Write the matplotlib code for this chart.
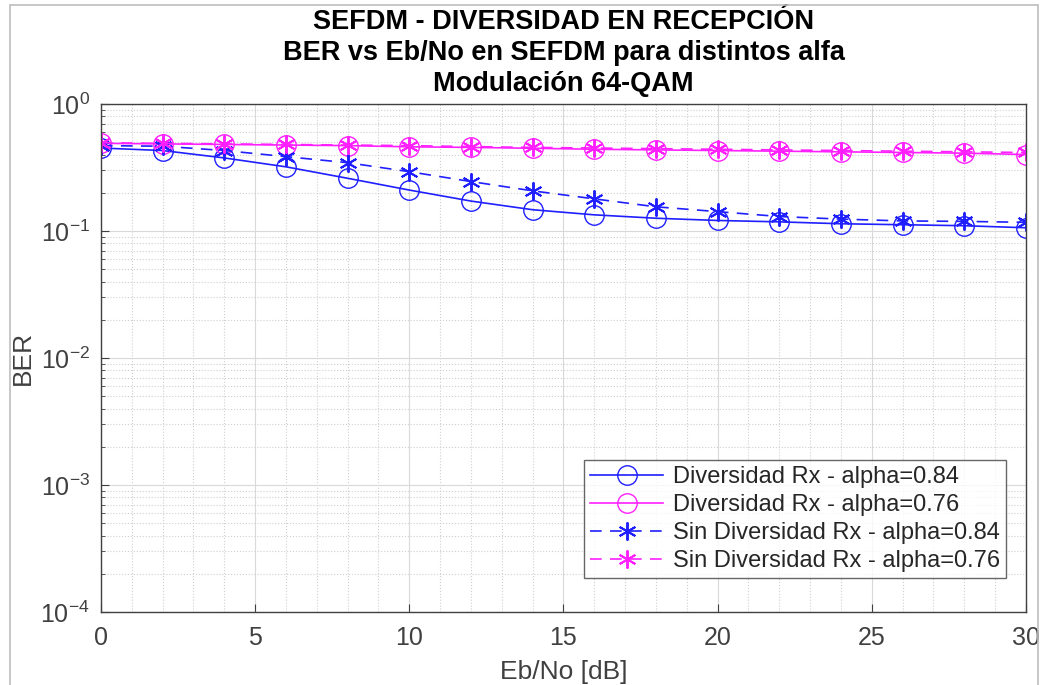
import numpy as np
import matplotlib
matplotlib.use("Agg")
import matplotlib.pyplot as plt
from matplotlib.patches import Rectangle
from matplotlib.ticker import MultipleLocator, LogLocator, NullFormatter

plt.rcParams['font.family'] = ['Liberation Sans', 'DejaVu Sans']

ebno = [0, 2, 4, 6, 8, 10, 12, 14, 16, 18, 20, 22, 24, 26, 28, 30]

# BER
div_084 = [0.45, 0.43, 0.376, 0.32, 0.26, 0.21, 0.172, 0.147, 0.134, 0.126,
           0.121, 0.118, 0.114, 0.112, 0.110, 0.106]
div_076 = [0.49, 0.485, 0.48, 0.475, 0.47, 0.46, 0.455, 0.448, 0.44, 0.435,
           0.43, 0.425, 0.42, 0.415, 0.41, 0.40]
sin_084 = [0.47, 0.465, 0.43, 0.385, 0.345, 0.293, 0.245, 0.207, 0.179, 0.155,
           0.142, 0.130, 0.124, 0.120, 0.119, 0.117]
sin_076 = [0.495, 0.49, 0.485, 0.48, 0.475, 0.47, 0.462, 0.455, 0.45, 0.445,
           0.44, 0.435, 0.43, 0.425, 0.42, 0.415]

azul = '#1f1fff'
rosa = '#ff1fff'
gris = '#404040'
asterisco = (6, 2, 0)

fig = plt.figure(figsize=(10.43, 6.85), dpi=100)
# marco gris de la ventana
fig.patches.append(Rectangle((10 / 1043, -0.05), 1028 / 1043, 1 - 5 / 685 + 0.05,
                             transform=fig.transFigure, fill=False,
                             edgecolor='#bdbdbd', lw=1.2))
ax = fig.add_axes([0.0968, 0.1066, 0.8869, 0.7416])

ax.semilogy(ebno, div_084, '-', marker='o', color=azul, mfc='none', ms=14, lw=1.2,
            label='Diversidad Rx - alpha=0.84')
ax.semilogy(ebno, div_076, '-', marker='o', color=rosa, mfc='none', ms=14, lw=1.2,
            label='Diversidad Rx - alpha=0.76')
ax.semilogy(ebno, sin_084, '--', marker=asterisco, color=azul, ms=13, mew=1.4, lw=1.2,
            dashes=(7, 5), label='Sin Diversidad Rx - alpha=0.84')
ax.semilogy(ebno, sin_076, '--', marker=asterisco, color=rosa, ms=13, mew=1.4, lw=1.2,
            dashes=(7, 5), label='Sin Diversidad Rx - alpha=0.76')

ax.set_xlim(0, 30)
ax.set_ylim(1e-4, 1)
ax.xaxis.set_major_locator(MultipleLocator(5))
ax.xaxis.set_minor_locator(MultipleLocator(1))
ax.yaxis.set_major_locator(LogLocator(base=10, numticks=10))
ax.yaxis.set_minor_locator(LogLocator(base=10, subs=np.arange(2, 10), numticks=50))
ax.yaxis.set_minor_formatter(NullFormatter())

ax.grid(True, which='major', color='#d9d9d9', lw=0.8)
ax.grid(True, which='minor', color='#cfcfcf', ls=':', lw=0.8)
ax.set_axisbelow(True)
ax.tick_params(which='both', direction='in', colors=gris, labelsize=18)
ax.tick_params(axis='x', which='major', pad=10)
ax.tick_params(axis='y', which='major', pad=8)
ax.tick_params(which='major', length=6)
ax.tick_params(which='minor', length=3)
ax.tick_params(axis='x', which='minor', length=0)
for s in ax.spines.values():
    s.set_color(gris)
    s.set_linewidth(1.0)

ax.set_xlabel('Eb/No [dB]', fontsize=19, color=gris, labelpad=7)
ax.set_ylabel('BER', fontsize=19, color=gris, labelpad=4)
ax.set_title('SEFDM - DIVERSIDAD EN RECEPCIÓN\nBER vs Eb/No en SEFDM para distintos alfa\nModulación 64-QAM',
             fontsize=19.5, fontweight='bold', color='black', linespacing=1.25, pad=9)

leg = ax.legend(loc='lower right', bbox_to_anchor=(0.978, 0.067), fontsize=17,
                handlelength=3.1, frameon=True, fancybox=False, edgecolor=gris,
                borderaxespad=0, labelspacing=0.25, borderpad=0.25, handletextpad=0.4)
leg.get_frame().set_linewidth(1.0)
for t in leg.get_texts():
    t.set_color('#262626')

fig.savefig('out.png', dpi=100)
